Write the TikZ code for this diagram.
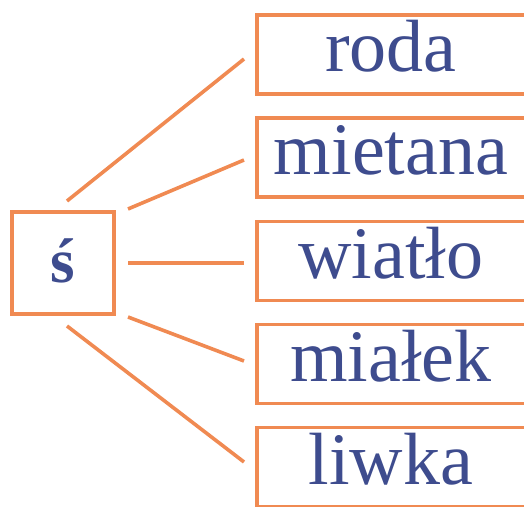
\documentclass[tikz,border=0pt]{standalone}
\usepackage{fontspec}
\setmainfont{Liberation Serif}
\definecolor{boxorange}{HTML}{F08A52}
\definecolor{wordblue}{HTML}{3E4C8E}
\begin{document}
\begin{tikzpicture}[x=1pt,y=1pt,
  wordbox/.style={draw=boxorange, line width=3.6pt, fill=white, inner sep=0pt,
    minimum width=300pt, minimum height=79pt, text height=55pt, text depth=20pt,
    font=\fontsize{74}{80}\selectfont, text=wordblue},
  letterbox/.style={draw=boxorange, line width=3.6pt, fill=white, inner sep=0pt,
    minimum width=102pt, minimum height=102pt, text height=55pt, text depth=15pt,
    font=\fontsize{63}{70}\selectfont\bfseries, text=wordblue},
  link/.style={draw=boxorange, line width=3.6pt}]
\useasboundingbox (0,0) rectangle (524,506);
\begin{scope}
\clip (0,0) rectangle (524,506);
\node[letterbox] (L) at (63,243) {ś};
\node[wordbox] (w1) at (407,451.5) {\hspace*{-32pt}roda};
\node[wordbox] (w2) at (407,348.5) {\hspace*{-32pt}mietana};
\node[wordbox] (w3) at (407,245) {\hspace*{-32pt}wiatło};
\node[wordbox] (w4) at (407,142) {\hspace*{-32pt}miałek};
\node[wordbox] (w5) at (407,39) {\hspace*{-32pt}liwka};
\end{scope}
\coordinate (s1) at (67,305);
\coordinate (s2) at (128,297);
\coordinate (s3) at (128,243);
\coordinate (s4) at (128,189);
\coordinate (s5) at (67,180);
\coordinate (e1) at (244,447);
\coordinate (e2) at (244,346);
\coordinate (e3) at (244,243);
\coordinate (e4) at (244,145);
\coordinate (e5) at (244,44);
\draw[link] (s1) -- (e1);
\draw[link] (s2) -- (e2);
\draw[link] (s3) -- (e3);
\draw[link] (s4) -- (e4);
\draw[link] (s5) -- (e5);
\end{tikzpicture}
\end{document}
